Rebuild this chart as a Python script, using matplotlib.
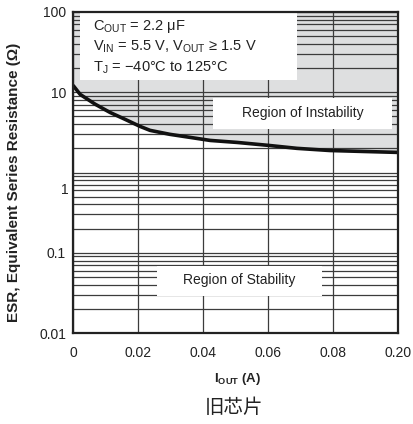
import numpy as np
import matplotlib.pyplot as plt
from matplotlib.patches import Rectangle
import matplotlib.transforms as mtransforms

plt.rcParams['font.family'] = ['Liberation Sans', 'DejaVu Sans']
plt.rcParams['mathtext.fontset'] = 'custom'
plt.rcParams['mathtext.rm'] = 'Liberation Sans'
plt.rcParams['mathtext.bf'] = 'Liberation Sans:bold'

# Data: minimum stable ESR vs output current
iout = [0, 0.0022, 0.0068, 0.0114, 0.016, 0.0206, 0.0237, 0.0298, 0.036,
        0.0422, 0.0505, 0.060, 0.0689, 0.079, 0.135, 0.20]
esr = [12.2, 9.4, 7.1, 5.6, 4.6, 3.76, 3.35, 2.99, 2.74,
       2.51, 2.37, 2.18, 2.0, 1.88, 1.83, 1.78]

x_ticks = [0, 0.02, 0.04, 0.06, 0.08, 0.20]
x_labels = ['0', '0.02', '0.04', '0.06', '0.08', '0.20']
y_ticks = [0.01, 0.1, 1, 10, 100]
y_labels = ['0.01', '0.1', '', '10', '100']

# broken x axis: last interval 0.08 -> 0.20 squeezed to one grid step
def fwd(x):
    return np.interp(x, [0, 0.08, 0.2], [0, 0.08, 0.10])

def inv(x):
    return np.interp(x, [0, 0.08, 0.10], [0, 0.08, 0.2])

gray = '#dedfe0'
grid_c = '#3c3c3c'
dark = '#222222'

fig = plt.figure(figsize=(4.13, 4.24), dpi=100)
ax = fig.add_axes([0.1768, 0.2146, 0.7869, 0.7571])

ax.set_xscale('function', functions=(fwd, inv))
ax.set_yscale('log')
ax.set_xlim(0, 0.2)
ax.set_ylim(0.01, 100)

ax.fill_between(iout, esr, 100, color=gray, lw=0, zorder=0.5)
ax.plot(iout, esr, color='#111111', lw=2.6, solid_capstyle='butt', zorder=4)

ax.set_xticks(x_ticks)
ax.set_xticklabels(x_labels)
ax.set_yticks(y_ticks)
ax.set_yticklabels(y_labels)
ax.tick_params(which='both', length=0, labelsize=10, colors='#222222')
ax.tick_params(axis='x', pad=9)
ax.tick_params(axis='y', pad=5)
ax.grid(True, which='major', color=grid_c, lw=0.9)
ax.grid(True, which='minor', axis='y', color=grid_c, lw=0.9)

# the "1" label sits a bit low in the original
ax.text(-0.015, 0.6, '1', transform=mtransforms.blended_transform_factory(ax.transAxes, ax.transData),
        ha='right', va='center', fontsize=10, color='#222222')

for s in ax.spines.values():
    s.set_color(dark)
    s.set_linewidth(1.6)
    s.set_zorder(5)

# white annotation boxes
ax.add_patch(Rectangle((0.0215, 0.788), 0.6675, 0.212, transform=ax.transAxes,
                       facecolor='white', edgecolor='none', zorder=2))
ax.add_patch(Rectangle((0.431, 0.636), 0.551, 0.096, transform=ax.transAxes,
                       facecolor='white', edgecolor='none', zorder=2))
ax.add_patch(Rectangle((0.258, 0.115), 0.508, 0.094, transform=ax.transAxes,
                       facecolor='white', edgecolor='none', zorder=2))

cond = [r'C$_\mathrm{OUT}$ = 2.2 $\mathrm{\mu}$F',
        r'V$_\mathrm{IN}$ = 5.5 V, V$_\mathrm{OUT}$ ≥ 1.5 V',
        r'T$_\mathrm{J}$ = $-$40°C to 125°C']
for i, line in enumerate(cond):
    ax.text(0.062, 0.955 - i * 0.064, line, transform=ax.transAxes,
            ha='left', va='center', fontsize=10.5, color='#222222', zorder=3)

ax.text(0.706, 0.684, 'Region of Instability', transform=ax.transAxes,
        ha='center', va='center', fontsize=10, color='#222222', zorder=3)
ax.text(0.51, 0.165, 'Region of Stability', transform=ax.transAxes,
        ha='center', va='center', fontsize=10, color='#222222', zorder=3)

ax.set_xlabel(r'I$_\mathbf{OUT}$ (A)', fontsize=9.5, fontweight='bold', color='#222222')
ax.xaxis.set_label_coords(0.505, -0.118)
ax.set_ylabel('ESR, Equivalent Series Resistance (Ω)', fontsize=11, fontweight='bold',
              color='#222222')
ax.yaxis.set_label_coords(-0.16, 0.47)

fig.text(0.566, 0.038, '旧芯片', ha='center', va='center', fontsize=14,
         family=['Noto Sans CJK SC', 'DejaVu Sans'], color='#222222')

fig.savefig('out.png', dpi=100)
